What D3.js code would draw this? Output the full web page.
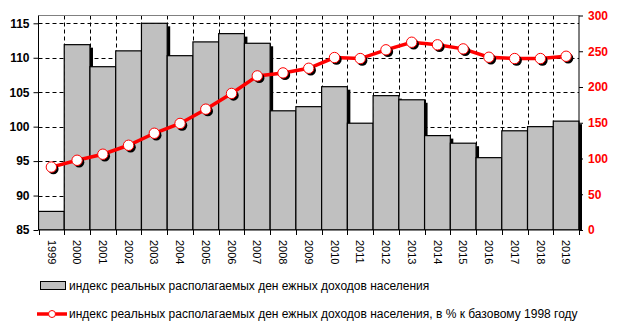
<!DOCTYPE html>
<html><head><meta charset="utf-8">
<script src="https://cdn.jsdelivr.net/npm/d3@7"></script>
<style>body{margin:0;background:#fff}svg{display:block}text{font-family:Arial,"Liberation Sans",sans-serif}</style>
</head><body><svg id="c" width="620" height="333"></svg>
<script>
const years = ["1999","2000","2001","2002","2003","2004","2005","2006","2007","2008","2009","2010","2011","2012","2013","2014","2015","2016","2017","2018","2019"];
const annualIndex = [87.7,111.9,108.7,111.0,115.0,110.3,112.3,113.5,112.1,102.3,102.9,105.8,100.5,104.5,103.9,98.7,97.6,95.5,99.4,100.0,100.8];
const cumulativeIndex = [88,97.5,106,118.5,135.3,149,169,191,215.5,219.7,226.2,241.2,239.8,252,262.6,259,253.3,241.6,239.8,239.8,243];
const leftTicks = [85,90,95,100,105,110,115];
const rightTicks = [0,50,100,150,200,250,300];
const legendBar = "индекс реальных располагаемых ден ежных доходов населения";
const legendLine = "индекс реальных располагаемых ден ежных доходов населения, в % к базовому 1998 году";

const svg = d3.select("#c");
const L = 38.5, R = 579, B = 230, T = 15.5;
const x = d3.scaleBand().domain(years).range([L, R]).padding(0);
const yL = d3.scaleLinear().domain([85,115]).range([B, 23.3]);
const yR = d3.scaleLinear().domain([0,300]).range([B, T]);

svg.append("defs").append("clipPath").attr("id","pc").append("rect")
  .attr("x", L).attr("y", T).attr("width", R - L + 4).attr("height", B - T);

// gridlines
const g = svg.append("g");
g.selectAll(".hg").data(leftTicks.filter(d => d > 85)).join("line")
  .attr("x1", L).attr("x2", R).attr("y1", d => Math.round(yL(d))+0.5).attr("y2", d => Math.round(yL(d))+0.5)
  .attr("stroke","#000").attr("stroke-dasharray","4,3");
g.selectAll(".vg").data(years.slice(1)).join("line")
  .attr("x1", d => Math.round(x(d))+0.5).attr("x2", d => Math.round(x(d))+0.5).attr("y1", T).attr("y2", B)
  .attr("stroke","#000").attr("stroke-dasharray","4,3");

// bars
const bg = svg.append("g").attr("clip-path","url(#pc)");
bg.selectAll(".sh").data(years).join("rect")
  .attr("x", d => x(d) + 3).attr("y", (d,i) => yL(annualIndex[i]) + 3)
  .attr("width", x.bandwidth()).attr("height", (d,i) => B - yL(annualIndex[i]))
  .attr("fill","#000");
bg.selectAll(".bar").data(years).join("rect")
  .attr("x", d => x(d)).attr("y", (d,i) => yL(annualIndex[i]))
  .attr("width", x.bandwidth()).attr("height", (d,i) => B - yL(annualIndex[i]))
  .attr("fill","#c0c0c0").attr("stroke","#000").attr("stroke-width",1.2);

// frame
svg.append("line").attr("x1",L).attr("x2",R).attr("y1",T).attr("y2",T).attr("stroke","#808080");

// axes
const axL = svg.append("g").attr("transform",`translate(${L},0)`)
  .call(d3.axisLeft(yL).tickValues(leftTicks).tickSize(5).tickPadding(4));
axL.select(".domain").attr("d",`M0,${T}V${B}`).attr("stroke","#000");
axL.selectAll("text").attr("font-size",12).attr("font-weight","bold").attr("fill","#000");

const axR = svg.append("g").attr("transform",`translate(${R},0)`)
  .call(d3.axisRight(yR).tickValues(rightTicks).tickSize(4).tickPadding(5));
axR.select(".domain").attr("d",`M0,${T}V${B}`).attr("stroke","#000");
axR.selectAll("text").attr("font-size",12).attr("font-weight","bold").attr("fill","#ff0000");

const axB = svg.append("g").attr("transform",`translate(0,${B})`)
  .call(d3.axisBottom(x).tickSize(0).tickPadding(0));
axB.select(".domain").attr("d",`M${L},0H${R}`).attr("stroke","#000");
axB.selectAll("text").attr("font-size",11).attr("fill","#000")
  .attr("transform","translate(0,10) rotate(90)").attr("text-anchor","start").attr("dy","0.35em").attr("x",0).attr("y",0);
svg.append("g").selectAll("line").data(years.concat(["end"])).join("line")
  .attr("x1",(d,i) => Math.round(L + i*x.bandwidth())+0.5).attr("x2",(d,i) => Math.round(L + i*x.bandwidth())+0.5)
  .attr("y1",B).attr("y2",B+5).attr("stroke","#000");

// line series
const line = d3.line().x((d,i) => x(years[i]) + x.bandwidth()/2).y(d => yR(d));
svg.append("path").datum(cumulativeIndex).attr("d", line)
  .attr("fill","none").attr("stroke","#ff0000").attr("stroke-width",3.5);
svg.append("g").selectAll("circle").data(cumulativeIndex).join("circle")
  .attr("cx",(d,i) => x(years[i]) + x.bandwidth()/2 + 2).attr("cy", d => yR(d) + 2).attr("r",5.2).attr("fill","#000");
svg.append("g").selectAll("circle").data(cumulativeIndex).join("circle")
  .attr("cx",(d,i) => x(years[i]) + x.bandwidth()/2).attr("cy", d => yR(d)).attr("r",5.2)
  .attr("fill","#fff").attr("stroke","#ff0000").attr("stroke-width",1);

// legend
const lg = svg.append("g");
lg.append("rect").attr("x",40.5).attr("y",281.5).attr("width",25).attr("height",8).attr("fill","#c0c0c0").attr("stroke","#000");
lg.append("text").attr("x",69).attr("y",290).attr("font-size",12).attr("fill","#000").text(legendBar);
lg.append("line").attr("x1",37).attr("x2",67).attr("y1",314).attr("y2",314).attr("stroke","#ff0000").attr("stroke-width",3.5);
lg.append("circle").attr("cx",52).attr("cy",314).attr("r",3.5).attr("fill","#fff").attr("stroke","#ff0000");
lg.append("text").attr("x",69).attr("y",318).attr("font-size",12).attr("fill","#000").text(legendLine);
</script></body></html>
